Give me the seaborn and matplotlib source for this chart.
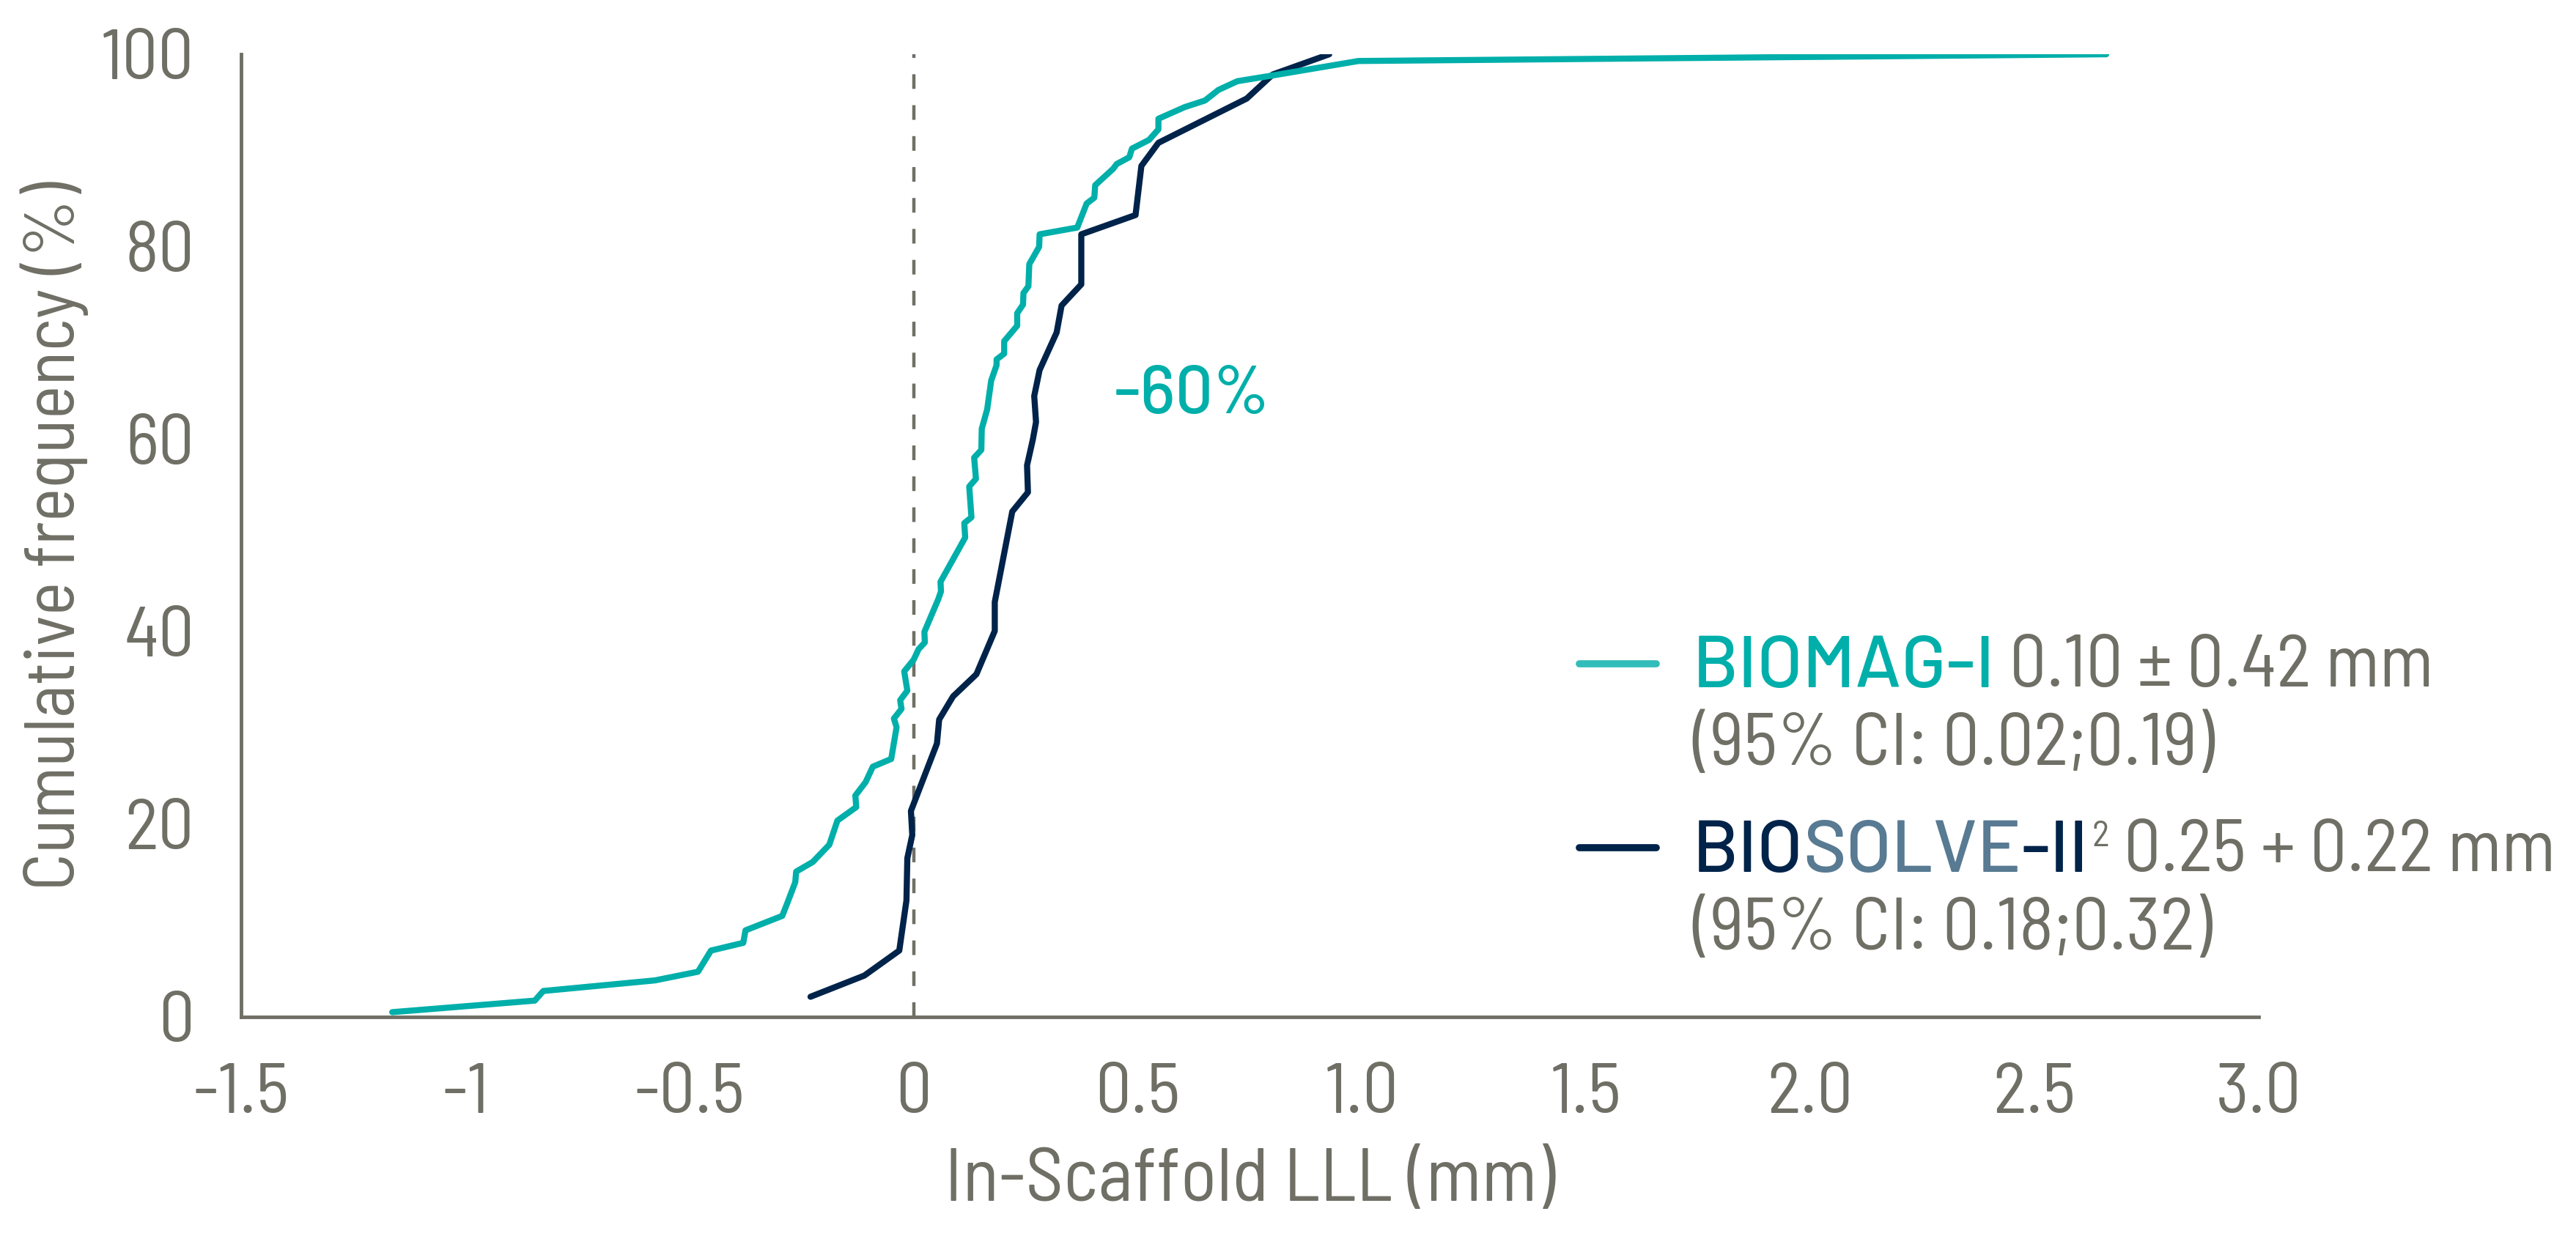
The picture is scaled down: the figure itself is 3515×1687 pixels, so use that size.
import numpy as np
import pandas as pd
import seaborn as sns
import matplotlib.pyplot as plt
from matplotlib import font_manager

# BIOMAG-I cumulative curve
biomag_lll = [-1.163, -0.845, -0.826, -0.577, -0.481, -0.452, -0.380, -0.375, -0.293, -0.282,
              -0.264, -0.262, -0.225, -0.188, -0.170, -0.128, -0.130, -0.107, -0.091, -0.050,
              -0.038, -0.044, -0.027, -0.030, -0.014, -0.021, 0.000, 0.011, 0.025, 0.024,
              0.055, 0.061, 0.060, 0.115, 0.113, 0.129, 0.124, 0.139, 0.135, 0.151,
              0.152, 0.164, 0.173, 0.185, 0.185, 0.202, 0.202, 0.231, 0.231, 0.244,
              0.245, 0.256, 0.258, 0.280, 0.281, 0.365, 0.386, 0.403, 0.405, 0.445,
              0.453, 0.481, 0.487, 0.525, 0.546, 0.546, 0.604, 0.650, 0.680, 0.722,
              0.801, 0.992, 2.66]
biomag_freq = [0.5, 1.7, 2.7, 3.8, 4.7, 6.9, 7.7, 9.0, 10.5, 11.8,
               14.0, 15.1, 16.1, 17.9, 20.4, 21.8, 23.0, 24.4, 26.0, 26.8,
               30.1, 31.0, 32.0, 32.9, 33.9, 35.9, 37.1, 38.2, 38.9, 40.0,
               43.4, 44.2, 45.2, 49.8, 51.3, 51.9, 55.1, 55.9, 58.1, 58.9,
               61.1, 63.1, 66.1, 67.7, 68.3, 68.9, 70.2, 71.8, 73.1, 74.0,
               75.2, 75.9, 78.2, 80.0, 81.3, 82.0, 84.5, 85.1, 86.4, 88.1,
               88.6, 89.3, 90.2, 91.1, 92.2, 93.3, 94.5, 95.2, 96.3, 97.2,
               97.8, 99.3, 100.0]

# BIOSOLVE-II cumulative curve
biosolve_lll = [-0.230, -0.110, -0.032, -0.016, -0.014, -0.003, -0.006, 0.052, 0.057, 0.088,
                0.140, 0.181, 0.181, 0.220, 0.255, 0.253, 0.266, 0.273, 0.269, 0.281,
                0.319, 0.330, 0.374, 0.374, 0.495, 0.508, 0.546, 0.743, 0.801, 0.927]
biosolve_freq = [2.1, 4.3, 6.9, 12.1, 16.5, 18.9, 21.4, 28.4, 30.9, 33.3,
                 35.6, 40.1, 43.1, 52.5, 54.5, 57.3, 60.0, 61.8, 64.5, 67.2,
                 71.1, 73.9, 76.1, 81.3, 83.3, 88.4, 90.8, 95.4, 97.9, 100.0]

x_ticks = [-1.5, -1.0, -0.5, 0.0, 0.5, 1.0, 1.5, 2.0, 2.5, 3.0]
x_tick_labels = ['-1.5', '-1', '-0.5', '0', '0.5', '1.0', '1.5', '2.0', '2.5', '3.0']
y_ticks = [0, 20, 40, 60, 80, 100]

TEAL = '#00AFAA'
TEAL_LIGHT = '#33BDBA'
NAVY = '#00234A'
SLATE = '#587A92'
GREY = '#6F6F66'

sns.set_style('white')
names = {f.name for f in font_manager.fontManager.ttflist}
font = 'DejaVu Sans'
for cand in ['Barlow Semi Condensed', 'Barlow Condensed', 'Roboto Condensed', 'Saira SemiCondensed',
             'Asap Condensed', 'Archivo Narrow']:
    if cand in names:
        font = cand
        break
wide_font = 'Barlow' if 'Barlow' in names else font
plt.rcParams['font.family'] = [font, 'DejaVu Sans']

df = pd.concat([
    pd.DataFrame({'lll': biomag_lll, 'freq': biomag_freq, 'study': 'BIOMAG-I'}),
    pd.DataFrame({'lll': biosolve_lll, 'freq': biosolve_freq, 'study': 'BIOSOLVE-II'}),
], ignore_index=True)

fig = plt.figure(figsize=(35.15, 16.87), dpi=100)
ax = fig.add_axes([0.0936, 0.1772, 0.7832, 0.7789])

ax.axvline(0, color=GREY, lw=3.2, ls=(0, (4.5, 5)), zorder=1)

sns.lineplot(data=df, x='lll', y='freq', hue='study', palette={'BIOMAG-I': TEAL, 'BIOSOLVE-II': NAVY},
             hue_order=['BIOSOLVE-II', 'BIOMAG-I'],
             sort=False, estimator=None, linewidth=6, legend=False, ax=ax, zorder=3)
for line in ax.lines:
    line.set_solid_capstyle('round')

ax.set_xlim(-1.5, 3.0)
ax.set_ylim(0, 100)
ax.set_xticks(x_ticks)
ax.set_xticklabels(x_tick_labels)
ax.set_yticks(y_ticks)
sns.despine(ax=ax)
for side in ['left', 'bottom']:
    ax.spines[side].set_color(GREY)
    ax.spines[side].set_linewidth(3.5)
ax.tick_params(axis='y', length=20, width=2.5, color=GREY, labelcolor=GREY, labelsize=70, pad=26)
ax.tick_params(axis='x', length=23, width=2.5, color=GREY, labelcolor=GREY, labelsize=70, pad=22)
ax.set_xlabel('In-Scaffold LLL (mm)', fontsize=74, color=GREY, labelpad=22)
ax.set_ylabel('Cumulative frequency (%)', fontsize=70, color=GREY, labelpad=12)

ax.text(0.62, 64.5, '-60%', color=TEAL, fontsize=66, fontweight='medium', family=wide_font,
        ha='center', va='center')


def rich_line(x, y, parts, size=72):
    # chain coloured pieces of text one after another on a shared baseline
    t = None
    base = None
    for s, c, w, fam in parts:
        if t is None:
            t = fig.text(x, y, s, color=c, fontsize=size, fontweight=w, family=fam, va='baseline')
            base = t
        elif s == '2':
            t = ax.annotate(s, xy=(1, 1), xycoords=t, xytext=(3, 0), textcoords='offset points',
                            color=c, fontsize=size * 0.5, family=fam, va='top', annotation_clip=False)
        else:
            t = ax.annotate(s, xy=(1, 0), xycoords=(t, base), xytext=(0, 0), textcoords='offset points',
                            color=c, fontsize=size, fontweight=w, family=fam, va='bottom',
                            annotation_clip=False)
            base = t
    return t


fig.add_artist(plt.Line2D([0.613, 0.643], [1 - 906 / 1687] * 2, color=TEAL_LIGHT, lw=7))
fig.add_artist(plt.Line2D([0.613, 0.643], [1 - 1157 / 1687] * 2, color=NAVY, lw=7))
rich_line(0.657, 1 - 938 / 1687, [('BIOMAG-I', TEAL, 'medium', wide_font),
                                  (' 0.10 ± 0.42 mm', GREY, 'normal', font)])
rich_line(0.657, 1 - 1044 / 1687, [('(95% CI: 0.02;0.19)', GREY, 'normal', font)])
rich_line(0.657, 1 - 1190 / 1687, [('BIO', NAVY, 'medium', wide_font), ('SOLVE', SLATE, 'medium', wide_font),
                                   ('-II', NAVY, 'medium', wide_font), ('2', GREY, 'normal', font),
                                   (' 0.25 + 0.22 mm', GREY, 'normal', font)])
rich_line(0.657, 1 - 1296 / 1687, [('(95% CI: 0.18;0.32)', GREY, 'normal', font)])

fig.savefig('out.png', dpi=100)
